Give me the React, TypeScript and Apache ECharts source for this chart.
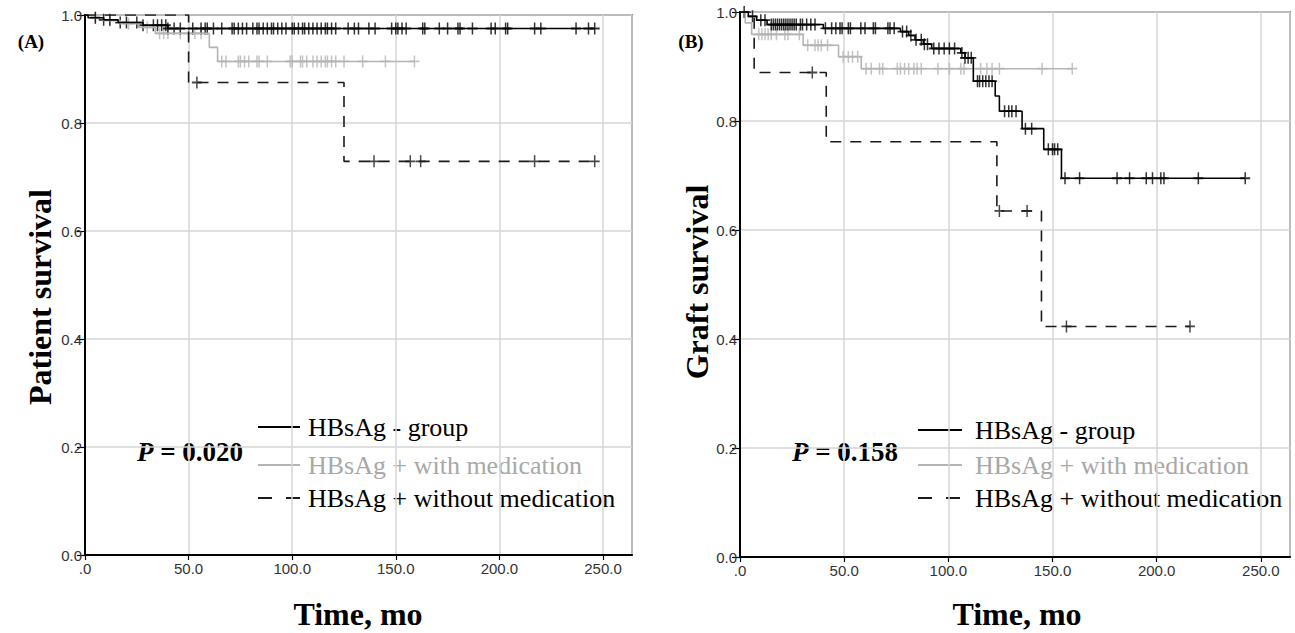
import React, { useEffect, useRef } from 'react';
import * as echarts from 'echarts';

// ---------- Data ----------
const GROUPS = ['HBsAg - group', 'HBsAg + with medication', 'HBsAg + without medication'];
const X_MAX = 264;
const X_INTERVAL = 50;
const Y_INTERVAL = 0.2;

// Panel A – patient survival
const aNegTimes = [1.5, 9, 16, 28, 40];
const aNegSurv = [0.995, 0.991, 0.986, 0.981, 0.975];
const aNegCensor = [5, 9, 12, 17, 20, 25, 28, 33, 35, 37, 39, 40, 43, 46, 52, 56, 58, 59, 62, 66, 71, 72, 74, 76, 78, 81, 83, 84, 86, 88, 90, 91, 93, 95, 97, 100, 101, 103, 105, 106, 108, 110, 112, 114, 116, 117, 119, 121, 127, 130, 132, 137, 140, 148, 150, 151, 153, 155, 163, 164, 171, 175, 180, 181, 187, 196, 198, 203, 204, 217, 220, 237, 243, 246];
const aNegEnd = 246;

const aMedTimes = [3, 9, 17, 26, 34, 60, 64];
const aMedSurv = [0.995, 0.99, 0.984, 0.977, 0.966, 0.94, 0.914];
const aMedCensor = [5, 12, 21, 30, 36, 38, 40, 46, 50, 53, 56, 66, 68, 74, 75, 77, 79, 83, 84, 88, 99, 100, 104, 105, 107, 110, 112, 114, 116, 117, 119, 121, 125, 134, 145, 159];
const aMedEnd = 159;

const aNoMedTimes = [50, 125];
const aNoMedSurv = [0.875, 0.729];
const aNoMedCensor = [54, 139.5, 157, 162, 217, 246];
const aNoMedEnd = 246;

// Panel B – graft survival
const bNegTimes = [4, 8, 13, 40, 77, 81, 84, 88, 92, 106, 108, 112, 122.5, 124.5, 135.4, 145.8, 154.3];
const bNegSurv = [0.992, 0.985, 0.977, 0.97, 0.964, 0.957, 0.949, 0.941, 0.933, 0.925, 0.916, 0.873, 0.846, 0.818, 0.786, 0.748, 0.695];
const bNegCensor = [2, 6, 10, 12, 15, 16, 17, 18, 19, 20, 21, 22, 23, 24, 25, 26, 27, 29, 30, 32, 34, 36, 41, 44, 46, 48, 49, 52, 53, 58, 60, 64, 65, 71, 72, 74, 78, 80, 82, 84.5, 87, 88.5, 90, 93, 95.5, 98, 100.5, 103, 106.5, 108, 109.5, 111, 114, 115, 116.5, 118, 119.5, 121, 127, 129, 130.5, 132.5, 137, 140, 148, 150, 151, 152.5, 156, 163, 181, 187, 195, 198, 202, 203.5, 220, 242.5];
const bNegEnd = 242.5;

const bMedTimes = [2.5, 5.6, 30.3, 47.3, 58.2];
const bMedSurv = [0.98, 0.959, 0.939, 0.918, 0.896];
const bMedCensor = [9, 10.5, 12, 13.5, 15, 17.5, 21.5, 23, 28.5, 32.5, 36, 37.5, 39, 42, 49.5, 52, 54, 56.5, 60.5, 63, 67, 68.5, 75.5, 77, 79, 81, 83.5, 85, 87, 95, 100.5, 106, 107.5, 115.5, 118.5, 121, 124.5, 145, 159.5];
const bMedEnd = 159.5;

const bNoMedTimes = [6.8, 41.4, 123.3, 144.7];
const bNoMedSurv = [0.889, 0.762, 0.635, 0.423];
const bNoMedCensor = [34.7, 124.5, 137.8, 156.7, 216];
const bNoMedEnd = 216;

const P_VALUES = ['0.020', '0.158'];
const PANEL_TAGS = ['(A)', '(B)'];
const Y_TITLES = ['Patient survival', 'Graft survival'];
const X_TITLE = 'Time, mo';

// ---------- Styles ----------
const BLACK = '#000000';
const GRAY = '#b4b4b4';
const DASH = '#1a1a1a';
const SERIF = '"Liberation Serif", "Times New Roman", serif';
const SANS = '"Liberation Sans", Arial, sans-serif';
const PLUS = 'path://M8.5,0L11.5,0L11.5,8.5L20,8.5L20,11.5L11.5,11.5L11.5,20L8.5,20L8.5,11.5L0,11.5L0,8.5L8.5,8.5Z';

function survAt(times: number[], surv: number[], t: number) {
  let s = 1;
  for (let i = 0; i < times.length; i++) if (times[i] <= t) s = surv[i];
  return s;
}

function km(grid: number, name: string, times: number[], surv: number[], censor: number[], end: number, color: string, dashed: boolean) {
  const lineData: number[][] = [[0, 1]];
  times.forEach((t, i) => lineData.push([t, surv[i]]));
  lineData.push([end, surv[surv.length - 1]]);
  const censorData = censor.map((t) => [t, survAt(times, surv, t)]);
  return [
    {
      type: 'line', name, xAxisIndex: grid, yAxisIndex: grid, step: 'end', data: lineData,
      showSymbol: false, symbol: 'none', silent: true,
      lineStyle: { color, width: 1.6, type: dashed ? [11, 9] : 'solid' },
    },
    {
      type: 'scatter', name: name + ' censored', xAxisIndex: grid, yAxisIndex: grid, data: censorData,
      symbol: PLUS, symbolSize: [10, 12], silent: true,
      itemStyle: { color },
    },
  ];
}

function axesFor(grid: number) {
  return {
    x: {
      type: 'value', gridIndex: grid, min: 0, max: X_MAX, interval: X_INTERVAL,
      axisLine: { show: true, lineStyle: { color: '#000', width: 2 } },
      axisTick: { show: true, length: 5, lineStyle: { color: '#000', width: 1.2 } },
      axisLabel: {
        showMaxLabel: false, margin: 6, fontFamily: SANS, fontSize: 15, color: '#333',
        formatter: (v: number) => (v === 0 ? '.0' : v.toFixed(1)),
      },
      splitLine: { show: true, lineStyle: { color: '#d6d6d6', width: 1.5 } },
    },
    y: {
      type: 'value', gridIndex: grid, min: 0, max: 1, interval: Y_INTERVAL,
      axisLine: { show: true, lineStyle: { color: '#000', width: 2 } },
      axisTick: { show: true, length: 8, lineStyle: { color: '#000', width: 1.2 } },
      axisLabel: {
        margin: 3, fontFamily: SANS, fontSize: 15, color: '#333',
        formatter: (v: number) => v.toFixed(1),
      },
      splitLine: { show: true, lineStyle: { color: '#d6d6d6', width: 1.5 } },
    },
  };
}

function legendGraphics(x0: number, x1: number, tx: number, rows: number[]) {
  const colors = [BLACK, GRAY, DASH];
  const textColors = ['#000', '#a8a8a8', '#000'];
  const els: any[] = [];
  GROUPS.forEach((g, i) => {
    els.push({
      type: 'line', shape: { x1: x0, y1: rows[i], x2: x1, y2: rows[i] },
      style: { stroke: colors[i], lineWidth: 1.8, lineDash: i === 2 ? [14, 14] : null },
    });
    els.push({
      type: 'text', x: tx, y: rows[i],
      style: { text: g, font: `26px ${SERIF}`, fill: textColors[i], textAlign: 'left', textVerticalAlign: 'middle' },
    });
  });
  return els;
}

function pText(x: number, y: number, p: string) {
  return {
    type: 'text', x, y,
    style: {
      text: `{i|P}{b| = ${p}}`, textAlign: 'left', textVerticalAlign: 'middle',
      rich: {
        i: { fontFamily: SERIF, fontSize: 27, fontWeight: 'bold', fontStyle: 'italic', fill: '#000', color: '#000' },
        b: { fontFamily: SERIF, fontSize: 27, fontWeight: 'bold', fill: '#000', color: '#000' },
      },
    },
  };
}

function titleText(x: number, y: number, text: string, size: number, rotate = 0) {
  return {
    type: 'text', x, y, rotation: rotate,
    style: { text, font: `bold ${size}px ${SERIF}`, fill: '#000', textAlign: 'center', textVerticalAlign: 'middle' },
  };
}

export default function App() {
  const ref = useRef<HTMLDivElement>(null);
  useEffect(() => {
    if (!ref.current) return;
    const chart = echarts.init(ref.current, undefined, { renderer: 'svg' });
    const ax0 = axesFor(0);
    const ax1 = axesFor(1);
    const series = [
      ...km(0, GROUPS[1], aMedTimes, aMedSurv, aMedCensor, aMedEnd, GRAY, false),
      ...km(0, GROUPS[2], aNoMedTimes, aNoMedSurv, aNoMedCensor, aNoMedEnd, DASH, true),
      ...km(0, GROUPS[0], aNegTimes, aNegSurv, aNegCensor, aNegEnd, BLACK, false),
      ...km(1, GROUPS[1], bMedTimes, bMedSurv, bMedCensor, bMedEnd, GRAY, false),
      ...km(1, GROUPS[2], bNoMedTimes, bNoMedSurv, bNoMedCensor, bNoMedEnd, DASH, true),
      ...km(1, GROUPS[0], bNegTimes, bNegSurv, bNegCensor, bNegEnd, BLACK, false),
    ];
    chart.setOption({
      animation: false,
      backgroundColor: '#fff',
      grid: [
        { left: 85, top: 15, width: 547, height: 540, show: true, borderColor: '#444', borderWidth: 1.5 },
        { left: 740, top: 12, width: 550, height: 545, show: true, borderColor: '#444', borderWidth: 1.5 },
      ],
      xAxis: [ax0.x, ax1.x],
      yAxis: [ax0.y, ax1.y],
      series,
      graphic: [
        titleText(31, 41, PANEL_TAGS[0], 19),
        titleText(691, 41, PANEL_TAGS[1], 19),
        titleText(40, 297, Y_TITLES[0], 32, Math.PI / 2),
        titleText(697, 282, Y_TITLES[1], 32, Math.PI / 2),
        titleText(358, 614, X_TITLE, 32),
        titleText(1017, 614, X_TITLE, 32),
        pText(137, 452, P_VALUES[0]),
        pText(792, 452, P_VALUES[1]),
        ...legendGraphics(258, 300, 308, [427, 465, 498]),
        ...legendGraphics(918, 962, 975, [430, 465, 498]),
      ],
    });
    return () => chart.dispose();
  }, []);
  return (
    <div
      ref={ref}
      style={{ position: 'fixed', left: 0, top: 0, width: 1295, height: 633, background: '#fff' }}
    />
  );
}
